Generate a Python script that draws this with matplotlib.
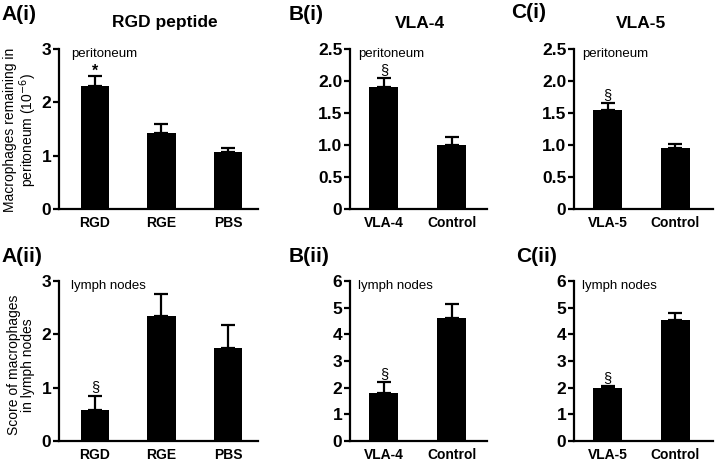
import matplotlib
matplotlib.use("Agg")
import matplotlib.pyplot as plt

plt.rcParams['font.family'] = ['Liberation Sans', 'DejaVu Sans']

# ---- data ----
a_cats = ["RGD", "RGE", "PBS"]
a_peri = [2.30, 1.43, 1.06]
a_peri_err = [0.19, 0.16, 0.09]
a_lymph = [0.58, 2.35, 1.74]
a_lymph_err = [0.27, 0.40, 0.44]

b_cats = ["VLA-4", "Control"]
b_peri = [1.91, 1.00]
b_peri_err = [0.13, 0.12]
b_lymph = [1.80, 4.60]
b_lymph_err = [0.41, 0.55]

c_cats = ["VLA-5", "Control"]
c_peri = [1.54, 0.95]
c_peri_err = [0.11, 0.07]
c_lymph = [1.98, 4.55]
c_lymph_err = [0.07, 0.26]

a_peri_marks = ["*", "", ""]
a_lymph_marks = ["§", "", ""]
b_peri_marks = ["§", ""]
b_lymph_marks = ["§", ""]
c_peri_marks = ["§", ""]
c_lymph_marks = ["§", ""]

fig = plt.figure(figsize=(7.2, 4.66), dpi=100)

def panel(rect, cats, vals, errs, marks, ylim, yticks, yticklabels, xlim, note, mark_gap):
    ax = fig.add_axes(rect)
    x = list(range(len(cats)))
    ax.bar(x, vals, width=0.43, color='black', zorder=2)
    ax.errorbar(x, vals, yerr=[[0]*len(vals), errs], fmt='none', ecolor='black',
                elinewidth=1.6, capsize=5, capthick=1.6, zorder=1)
    for xi, v, e, m in zip(x, vals, errs, marks):
        if m == '*':
            ax.text(xi, v + e, m, ha='center', va='baseline',
                    fontsize=11.5, fontweight='bold')
        elif m:
            ax.text(xi, v + e + mark_gap, m, ha='center', va='bottom',
                    fontsize=10.5)
    ax.set_xlim(*xlim)
    ax.set_ylim(*ylim)
    ax.set_yticks(yticks)
    ax.set_yticklabels(yticklabels, fontsize=12.5, fontweight='bold')
    ax.set_xticks(x)
    ax.set_xticklabels(cats, fontsize=10, fontweight='bold')
    ax.tick_params(axis='x', length=0, pad=5)
    ax.tick_params(axis='y', length=4, width=1.6, direction='out', pad=1.5)
    for s in ['top', 'right']:
        ax.spines[s].set_visible(False)
    ax.spines['left'].set_linewidth(1.6)
    ax.spines['bottom'].set_linewidth(1.6)
    ax.spines['left'].set_bounds(ylim[0], yticks[-1])
    ax.text(0.06, 1.005, note, transform=ax.transAxes, ha='left', va='top', fontsize=9.5)
    ax.set_facecolor('none')
    return ax

top_b = 1 - 209 / 466
bot_b = 1 - 441 / 466
h = 160 / 466

panel([59/720, top_b, 199/720, h], a_cats, a_peri, a_peri_err, a_peri_marks,
      (0, 3.0), [0, 1, 2, 3], ["0", "1", "2", "3"], (-0.54, 2.45), "peritoneum", 0.02)
panel([59/720, bot_b, 199/720, h], a_cats, a_lymph, a_lymph_err, a_lymph_marks,
      (0, 3.0), [0, 1, 2, 3], ["0", "1", "2", "3"], (-0.54, 2.45), "lymph nodes", 0.03)

pt = [0, 0.5, 1.0, 1.5, 2.0, 2.5]
ptl = ["0", "0.5", "1.0", "1.5", "2.0", "2.5"]
lt = [0, 1, 2, 3, 4, 5, 6]
ltl = [str(v) for v in lt]

panel([350/720, top_b, 137/720, h], b_cats, b_peri, b_peri_err, b_peri_marks,
      (0, 2.5), pt, ptl, (-0.5, 1.52), "peritoneum", 0.02)
panel([574/720, top_b, 139/720, h], c_cats, c_peri, c_peri_err, c_peri_marks,
      (0, 2.5), pt, ptl, (-0.5, 1.56), "peritoneum", 0.02)
panel([350/720, bot_b, 137/720, h], b_cats, b_lymph, b_lymph_err, b_lymph_marks,
      (0, 6), lt, ltl, (-0.5, 1.52), "lymph nodes", 0.05)
panel([574/720, bot_b, 139/720, h], c_cats, c_lymph, c_lymph_err, c_lymph_marks,
      (0, 6), lt, ltl, (-0.5, 1.56), "lymph nodes", 0.05)

def ftext(px, py, s, **kw):
    fig.text(px / 720, 1 - py / 466, s, **kw)

ftext(21, 130, "Macrophages remaining in\nperitoneum (10$^{-6}$)", fontsize=10,
      rotation=90, ha='center', va='center', linespacing=1.05)
ftext(21, 365, "Score of macrophages\nin lymph nodes", fontsize=10,
      rotation=90, ha='center', va='center', linespacing=1.05)

ftext(1, 14, "A(i)", fontsize=15, fontweight='bold', va='center', ha='left')
ftext(1, 256, "A(ii)", fontsize=15, fontweight='bold', va='center', ha='left')
ftext(289, 15, "B(i)", fontsize=15, fontweight='bold', va='center', ha='left')
ftext(289, 256, "B(ii)", fontsize=15, fontweight='bold', va='center', ha='left')
ftext(511, 13, "C(i)", fontsize=15, fontweight='bold', va='center', ha='left')
ftext(516, 256, "C(ii)", fontsize=15, fontweight='bold', va='center', ha='left')
ftext(165, 23, "RGD peptide", fontsize=12.5, fontweight='bold', va='center', ha='center')
ftext(420, 23, "VLA-4", fontsize=12.5, fontweight='bold', va='center', ha='center')
ftext(641, 23, "VLA-5", fontsize=12.5, fontweight='bold', va='center', ha='center')

fig.savefig("out.png", dpi=100)
